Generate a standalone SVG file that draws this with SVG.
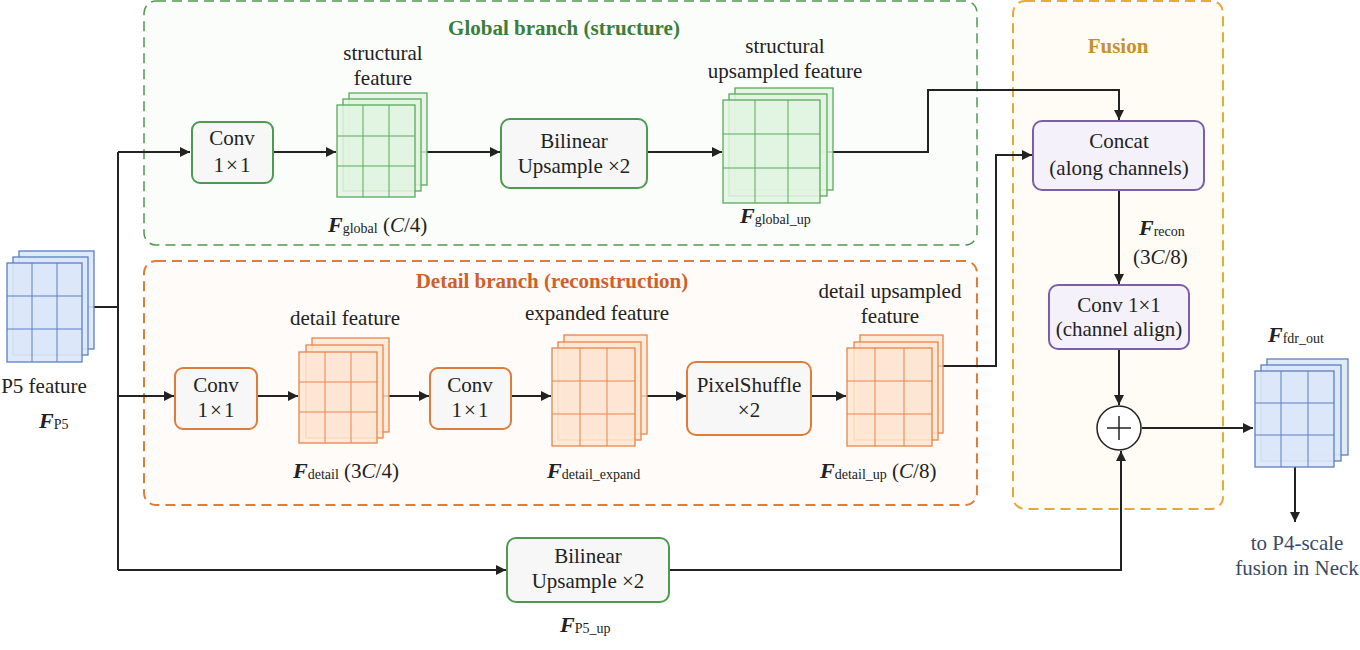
<svg xmlns="http://www.w3.org/2000/svg" width="1360" height="650" viewBox="0 0 1360 650" font-family="'Liberation Serif', 'DejaVu Serif', serif">
<defs>
<style>
text{font-family:'Liberation Serif','DejaVu Serif',serif;font-size:21px;fill:#222;}
.t{text-anchor:middle;}
.ttl{font-weight:bold;font-size:21px;text-anchor:middle;}
.F{font-weight:bold;font-style:italic;font-size:22px;}
.sub{font-size:14px;}
.x{letter-spacing:2px;}
.ln{fill:none;stroke:#222;stroke-width:2;}
.arr{fill:none;stroke:#222;stroke-width:2;marker-end:url(#ah);}
.box{fill:#f7f7f8;stroke-width:2;}
.gbox{stroke:#4e9a50;}
.obox{stroke:#e07b39;}
.pbox{stroke:#7b5ea7;fill:#f4f1fa;}
.gs rect{fill:#e2f3e2;fill-opacity:0.85;stroke:#5aaa5c;stroke-width:1.3;}
.gs line{stroke:#5aaa5c;stroke-width:1;}
.os rect{fill:#fde6d4;fill-opacity:0.85;stroke:#e8844a;stroke-width:1.3;}
.os line{stroke:#e8844a;stroke-width:1;}
.bs rect{fill:#dce8f8;fill-opacity:0.9;stroke:#5b7fc4;stroke-width:1.3;}
.bs line{stroke:#5b7fc4;stroke-width:1;}
</style>
<marker id="ah" viewBox="0 0 10 10" refX="10" refY="5" markerWidth="5" markerHeight="5" orient="auto" markerUnits="strokeWidth">
<path d="M0,0 L10,5 L0,10 z" fill="#222"/>
</marker>
</defs>
<rect width="1360" height="650" fill="#ffffff"/>

<!-- containers -->
<g id="global-branch">
<rect x="144" y="1" width="833" height="244" rx="12" fill="#fbfdfb" stroke="#4e9a50" stroke-width="1.5" stroke-dasharray="10 6"/>
<text class="ttl" x="564" y="35" style="fill:#3a7d3c">Global branch (structure)</text>
</g>
<g id="detail-branch">
<rect x="144" y="261" width="833" height="244" rx="12" fill="#fffbf8" stroke="#e07b39" stroke-width="2" stroke-dasharray="10 6"/>
<text class="ttl" x="552" y="288" style="fill:#d0602a">Detail branch (reconstruction)</text>
</g>
<g id="fusion">
<rect x="1013" y="1" width="210" height="508" rx="12" fill="#fffcf6" stroke="#e8a83a" stroke-width="2" stroke-dasharray="10 6"/>
<text class="ttl" x="1118" y="53" style="fill:#c8902a">Fusion</text>
</g>

<!-- connectors -->
<g id="connectors">
<polyline class="ln" points="87,307 118,307"/>
<polyline class="ln" points="118,152 118,570"/>
<polyline class="arr" points="118,152 190,152"/>
<polyline class="arr" points="118,396 174,396"/>
<polyline class="arr" points="118,570 506,570"/>
<polyline class="arr" points="273,152 336,152"/>
<polyline class="arr" points="415,152 500,152"/>
<polyline class="arr" points="647,152 722,152"/>
<polyline class="arr" points="820,152 928,152 928,90 1119,90 1119,120"/>
<polyline class="arr" points="257,396 298,396"/>
<polyline class="arr" points="383,396 429,396"/>
<polyline class="arr" points="511,396 551,396"/>
<polyline class="arr" points="641,396 686,396"/>
<polyline class="arr" points="811,396 846,396"/>
<polyline class="arr" points="937,366 996,366 996,155 1032,155"/>
<polyline class="arr" points="1119,190 1119,284"/>
<polyline class="arr" points="1119,349 1119,405"/>
<polyline class="arr" points="669,570 1121,570 1121,451"/>
<polyline class="arr" points="1142,428 1253,428"/>
<polyline class="arr" points="1295,467 1295,522"/>
</g>

<!-- P5 input -->
<g id="p5-feature" class="bs">
<rect x="19" y="251" width="75" height="98"/>
<rect x="13" y="257" width="75" height="98"/>
<rect x="7" y="263" width="75" height="99"/>
<line x1="32" y1="263" x2="32" y2="362"/><line x1="57" y1="263" x2="57" y2="362"/>
<line x1="7" y1="296" x2="82" y2="296"/><line x1="7" y1="329" x2="82" y2="329"/>
<text class="t" x="44" y="393">P5 feature</text>
<text x="39" y="428"><tspan class="F">F</tspan><tspan class="sub" dy="1">P5</tspan></text>
</g>

<!-- global branch nodes -->
<g id="conv-global">
<rect class="box gbox" x="192" y="122" width="81" height="61" rx="8"/>
<text class="t" x="232" y="145">Conv</text>
<text class="t x" x="233" y="172">1×1</text>
</g>
<g id="f-global" class="gs">
<rect x="349" y="93" width="78" height="92"/>
<rect x="343" y="99" width="78" height="92"/>
<rect x="337" y="105" width="78" height="92"/>
<line x1="363" y1="105" x2="363" y2="197"/><line x1="389" y1="105" x2="389" y2="197"/>
<line x1="337" y1="136" x2="415" y2="136"/><line x1="337" y1="166" x2="415" y2="166"/>
<text class="t" x="383" y="60">structural</text>
<text class="t" x="383" y="85">feature</text>
<text x="328" y="232"><tspan class="F">F</tspan><tspan class="sub" dy="1">global</tspan><tspan dy="-1">  (</tspan><tspan font-style="italic">C</tspan><tspan>/4)</tspan></text>
</g>
<g id="bilinear-global">
<rect class="box gbox" x="501" y="119" width="146" height="69" rx="9"/>
<text class="t" x="574" y="148">Bilinear</text>
<text class="t" x="574" y="173">Upsample ×2</text>
</g>
<g id="f-global-up" class="gs">
<rect x="735" y="88" width="98" height="102"/>
<rect x="729" y="94" width="98" height="102"/>
<rect x="723" y="100" width="97" height="103"/>
<line x1="755" y1="100" x2="755" y2="203"/><line x1="788" y1="100" x2="788" y2="203"/>
<line x1="723" y1="134" x2="820" y2="134"/><line x1="723" y1="168" x2="820" y2="168"/>
<text class="t" x="785" y="53">structural</text>
<text class="t" x="785" y="78">upsampled feature</text>
<text x="740" y="223"><tspan class="F">F</tspan><tspan class="sub" dy="1">global_up</tspan></text>
</g>

<!-- detail branch nodes -->
<g id="conv-detail-1">
<rect class="box obox" x="175" y="368" width="82" height="61" rx="8"/>
<text class="t" x="216" y="392">Conv</text>
<text class="t x" x="217" y="417">1×1</text>
</g>
<g id="f-detail" class="os">
<rect x="312" y="338" width="77" height="94"/>
<rect x="306" y="345" width="77" height="93"/>
<rect x="299" y="352" width="78" height="91"/>
<line x1="325" y1="352" x2="325" y2="443"/><line x1="351" y1="352" x2="351" y2="443"/>
<line x1="299" y1="382" x2="377" y2="382"/><line x1="299" y1="412" x2="377" y2="412"/>
<text class="t" x="345" y="325">detail feature</text>
<text x="293" y="478"><tspan class="F">F</tspan><tspan class="sub" dy="1">detail</tspan><tspan dy="-1"> (3</tspan><tspan font-style="italic">C</tspan><tspan>/4)</tspan></text>
</g>
<g id="conv-detail-2">
<rect class="box obox" x="430" y="368" width="81" height="61" rx="8"/>
<text class="t" x="470" y="392">Conv</text>
<text class="t x" x="471" y="417">1×1</text>
</g>
<g id="f-detail-expand" class="os">
<rect x="564" y="335" width="83" height="99"/>
<rect x="558" y="342" width="83" height="98"/>
<rect x="552" y="348" width="83" height="98"/>
<line x1="580" y1="348" x2="580" y2="446"/><line x1="607" y1="348" x2="607" y2="446"/>
<line x1="552" y1="381" x2="635" y2="381"/><line x1="552" y1="414" x2="635" y2="414"/>
<text class="t" x="597" y="320">expanded feature</text>
<text x="547" y="478"><tspan class="F">F</tspan><tspan class="sub" dy="1">detail_expand</tspan></text>
</g>
<g id="pixelshuffle">
<rect class="box obox" x="687" y="362" width="124" height="73" rx="9"/>
<text class="t" x="749" y="392">PixelShuffle</text>
<text class="t" x="749" y="417">×2</text>
</g>
<g id="f-detail-up" class="os">
<rect x="860" y="335" width="83" height="98"/>
<rect x="854" y="342" width="84" height="98"/>
<rect x="847" y="348" width="85" height="98"/>
<line x1="875" y1="348" x2="875" y2="446"/><line x1="904" y1="348" x2="904" y2="446"/>
<line x1="847" y1="381" x2="932" y2="381"/><line x1="847" y1="414" x2="932" y2="414"/>
<text class="t" x="890" y="298">detail upsampled</text>
<text class="t" x="890" y="323">feature</text>
<text x="820" y="478"><tspan class="F">F</tspan><tspan class="sub" dy="1">detail_up</tspan><tspan dy="-1">  (</tspan><tspan font-style="italic">C</tspan><tspan>/8)</tspan></text>
</g>

<!-- bottom skip -->
<g id="bilinear-p5">
<rect class="box gbox" x="507" y="538" width="162" height="64" rx="9"/>
<text class="t" x="588" y="563">Bilinear</text>
<text class="t" x="588" y="588">Upsample ×2</text>
<text x="560" y="632"><tspan class="F">F</tspan><tspan class="sub" dy="1">P5_up</tspan></text>
</g>

<!-- fusion nodes -->
<g id="concat">
<rect class="box pbox" x="1033" y="121" width="171" height="69" rx="9"/>
<text class="t" x="1119" y="148">Concat</text>
<text class="t" x="1119" y="175">(along channels)</text>
</g>
<g id="f-recon-label">
<text x="1139" y="235"><tspan class="F">F</tspan><tspan class="sub" dy="1">recon</tspan></text>
<text x="1133" y="264">(3<tspan font-style="italic">C</tspan>/8)</text>
</g>
<g id="conv-align">
<rect class="box pbox" x="1049" y="285" width="140" height="64" rx="9"/>
<text class="t" x="1119" y="312">Conv 1×1</text>
<text class="t" x="1119" y="336">(channel align)</text>
</g>
<g id="add">
<circle cx="1119" cy="428" r="22" fill="#ffffff" stroke="#222" stroke-width="1.5"/>
<line x1="1107" y1="428" x2="1131" y2="428" stroke="#222" stroke-width="1.5"/>
<line x1="1119" y1="416" x2="1119" y2="440" stroke="#222" stroke-width="1.5"/>
</g>

<!-- output -->
<g id="f-fdr-out" class="bs">
<rect x="1267" y="359" width="81" height="96"/>
<rect x="1261" y="365" width="80" height="96"/>
<rect x="1255" y="371" width="79" height="96"/>
<line x1="1281" y1="371" x2="1281" y2="467"/><line x1="1308" y1="371" x2="1308" y2="467"/>
<line x1="1255" y1="403" x2="1334" y2="403"/><line x1="1255" y1="435" x2="1334" y2="435"/>
<text x="1268" y="342"><tspan class="F">F</tspan><tspan class="sub" dy="1">fdr_out</tspan></text>
</g>
<g id="to-neck">
<text class="t" x="1297" y="550" style="fill:#3a4a66">to P4-scale</text>
<text class="t" x="1297" y="575" style="fill:#3a4a66">fusion in Neck</text>
</g>
</svg>
